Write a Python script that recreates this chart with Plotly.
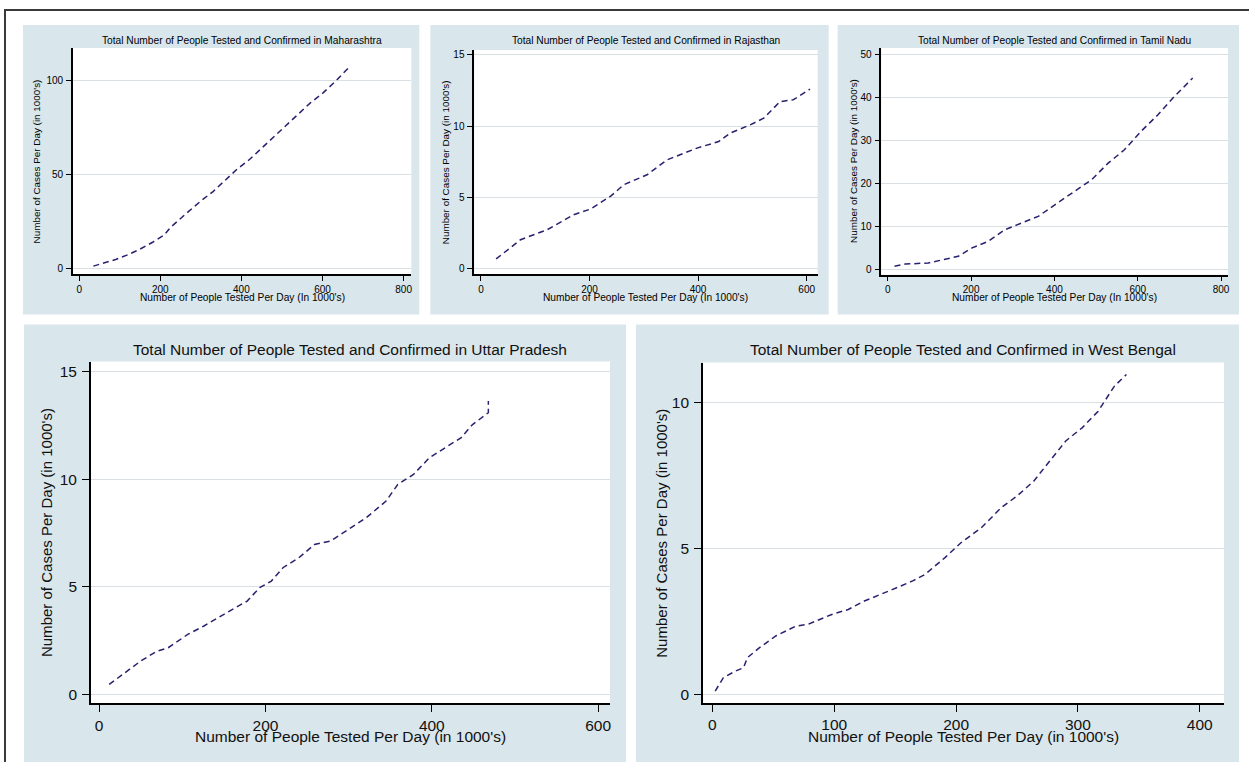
import plotly.graph_objects as go

W, H = 1249, 762

# ---------------- data (x: people tested per day, 1000's; y: cases per day, 1000's)
mh_x = [35, 60, 90, 120, 150, 180, 210, 225, 240, 270, 300, 330, 360, 390, 420, 450, 480, 510, 540, 570, 600, 630, 666]
mh_y = [1.5, 3, 5, 7.5, 10.5, 14, 18, 22, 25, 30.5, 36, 41, 47, 53, 58, 64, 70, 76, 82, 88, 93, 99, 107]

rj_x = [28, 73, 122, 171, 202, 239, 263, 306, 343, 398, 438, 459, 496, 521, 551, 575, 606]
rj_y = [0.7, 2.05, 2.75, 3.8, 4.2, 5.1, 5.9, 6.6, 7.65, 8.47, 8.93, 9.52, 10.1, 10.57, 11.73, 11.85, 12.6]

tn_x = [16, 42, 97, 129, 169, 201, 241, 281, 321, 361, 401, 441, 489, 529, 568, 608, 648, 688, 732]
tn_y = [0.8, 1.3, 1.55, 2.3, 3.1, 5.0, 6.6, 9.3, 10.85, 12.4, 15.1, 17.8, 20.9, 24.8, 27.9, 32.2, 36.0, 40.3, 44.6]

up_x = [12, 26, 50, 69, 83, 107, 126, 150, 164, 178, 193, 207, 221, 240, 259, 278, 297, 321, 345, 359, 378, 397, 416, 435, 449, 468, 468]
up_y = [0.46, 0.85, 1.55, 2.0, 2.17, 2.8, 3.18, 3.72, 4.03, 4.34, 4.96, 5.27, 5.89, 6.35, 6.97, 7.13, 7.6, 8.21, 8.99, 9.76, 10.23, 11.0, 11.47, 11.93, 12.55, 13.1, 13.64]

wb_x = [2.3, 9, 19, 25.5, 28.8, 38.7, 52, 68.5, 78.4, 98, 111.5, 124.7, 144.6, 164.4, 174.4, 190.9, 204, 220.7, 237, 250, 263.7, 276.9, 290, 303.4, 316.6, 329.9, 339.8]
wb_y = [0.11, 0.57, 0.8, 0.91, 1.26, 1.6, 2.0, 2.34, 2.4, 2.74, 2.91, 3.2, 3.54, 3.89, 4.11, 4.69, 5.2, 5.71, 6.4, 6.8, 7.31, 8.0, 8.69, 9.14, 9.71, 10.57, 10.97]

states = ["Maharashtra", "Rajasthan", "Tamil Nadu", "Uttar Pradesh", "West Bengal"]
series_x = [mh_x, rj_x, tn_x, up_x, wb_x]
series_y = [mh_y, rj_y, tn_y, up_y, wb_y]

x_ticks = [[0, 200, 400, 600, 800], [0, 200, 400, 600], [0, 200, 400, 600, 800],
           [0, 200, 400, 600], [0, 100, 200, 300, 400]]
y_ticks = [[0, 50, 100], [0, 5, 10, 15], [0, 10, 20, 30, 40, 50],
           [0, 5, 10, 15], [0, 5, 10]]

# ---------------- layout geometry (pixels)
# plot areas: (left, right, top, bottom)
plot_px = [(73, 412, 48, 274.3), (475, 819, 50, 274.3), (882.7, 1230, 48, 275),
           (91, 611, 362, 704.3), (704, 1226, 363, 704)]
x_ranges = [[-15.5, 819], [-12.3, 620.3], [-15.8, 816.8], [-10, 614.3], [-7.8, 419.9]]
y_ranges = [[-2.65, 117.1], [-0.35, 15.35], [-1.16, 51.6], [-0.42, 15.48], [-0.3, 11.38]]
# panel backgrounds: (left, right, top, bottom)
bg_px = [(23, 420, 25, 315), (431, 830, 25, 315), (839, 1241, 25, 315),
         (24, 627, 325, 780), (637, 1241, 325, 780)]
ytitle_x = [36.5, 447, 855, 46.7, 663]
small = [True, True, True, False, False]

BG = "#d9e6eb"
GRID = "#d9dfe3"
LINE = "#27216e"
FONT = "Liberation Sans, Arial, sans-serif"

fig = go.Figure()
shapes = []
annotations = []


def px2paper_x(v):
    return v / W


def px2paper_y(v):
    return 1 - v / H


# outer border
shapes.append(dict(type="rect", xref="paper", yref="paper",
                   x0=px2paper_x(5), x1=px2paper_x(1262), y0=px2paper_y(785), y1=px2paper_y(10),
                   line=dict(color="#3a3a3a", width=2), fillcolor="rgba(0,0,0,0)", layer="below"))

for i in range(5):
    n = "" if i == 0 else str(i + 1)
    xa, ya = "x" + n, "y" + n
    l, r, t, b = plot_px[i]
    bl, br, bt, bb = bg_px[i]
    shapes.append(dict(type="rect", xref="paper", yref="paper",
                       x0=px2paper_x(bl), x1=px2paper_x(br), y0=px2paper_y(bb), y1=px2paper_y(bt),
                       line=dict(width=0), fillcolor=BG, layer="below"))
    shapes.append(dict(type="rect", xref="paper", yref="paper",
                       x0=px2paper_x(l), x1=px2paper_x(r), y0=px2paper_y(b), y1=px2paper_y(t),
                       line=dict(width=0), fillcolor="white", layer="below"))
    fs = 10 if small[i] else 15.5
    tfs = 10.2 if small[i] else 15.5
    tl = 5 if small[i] else 7
    txtc = "#000" if small[i] else "#111"
    fig.add_trace(go.Scatter(x=series_x[i], y=series_y[i], mode="lines",
                             line=dict(color=LINE, width=1.5, dash="6px,4px"),
                             xaxis=xa, yaxis=ya, showlegend=False, hoverinfo="x+y"))
    fig.layout["xaxis" + n] = dict(domain=[px2paper_x(l), px2paper_x(r)], range=x_ranges[i],
                                   anchor=ya, tickvals=x_ticks[i], showgrid=False,
                                   showline=True, linecolor="black", linewidth=1.5, ticks="outside",
                                   ticklen=tl, tickwidth=1, tickcolor="black",
                                   tickfont=dict(family=FONT, size=fs, color=txtc), zeroline=False,
                                   ticklabelstandoff=0)
    fig.layout["yaxis" + n] = dict(domain=[px2paper_y(b), px2paper_y(t)], range=y_ranges[i],
                                   anchor=xa, tickvals=y_ticks[i], showgrid=True, gridcolor=GRID,
                                   gridwidth=1, showline=True, linecolor="black", linewidth=1.5,
                                   ticks="outside", ticklen=tl, tickwidth=1,
                                   tickcolor="black", tickfont=dict(family=FONT, size=fs, color=txtc),
                                   zeroline=False, ticklabelstandoff=1 if small[i] else 2)
    cx = (l + r) / 2
    title_y = 41 if small[i] else 350
    xt_y = 298 if small[i] else 737
    annotations.append(dict(text="Total Number of People Tested and Confirmed in " + states[i],
                            xref="paper", yref="paper", x=px2paper_x(cx), y=px2paper_y(title_y),
                            xanchor="center", yanchor="middle", showarrow=False,
                            font=dict(family=FONT, size=tfs, color=txtc)))
    xt = "Number of People Tested Per Day (In 1000's)" if small[i] else "Number of People Tested Per Day (in 1000's)"
    annotations.append(dict(text=xt, xref="paper", yref="paper", x=px2paper_x(cx), y=px2paper_y(xt_y),
                            xanchor="center", yanchor="middle", showarrow=False,
                            font=dict(family=FONT, size=tfs, color=txtc)))
    annotations.append(dict(text="Number of Cases Per Day (in 1000's)", xref="paper", yref="paper",
                            x=px2paper_x(ytitle_x[i]), y=px2paper_y((t + b) / 2), textangle=-90,
                            xanchor="center", yanchor="middle", showarrow=False,
                            font=dict(family=FONT, size=tfs * 0.97, color=txtc)))

fig.update_layout(width=W, height=H, margin=dict(l=0, r=0, t=0, b=0),
                  paper_bgcolor="white", plot_bgcolor="white",
                  shapes=shapes, annotations=annotations, showlegend=False)

fig.write_html("out.html")
